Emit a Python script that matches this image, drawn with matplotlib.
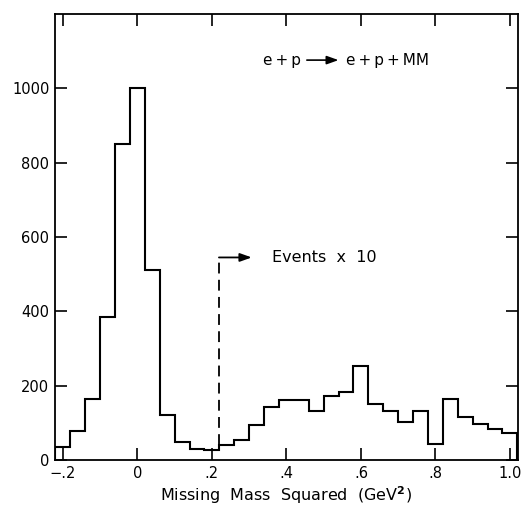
import numpy as np
import matplotlib
matplotlib.use('Agg')
import matplotlib.pyplot as plt

# Histogram of missing mass squared, bins 0.04 GeV^2 wide
bin_edges = np.round(np.arange(-0.22, 1.021, 0.04), 2)
counts = [35, 78, 164, 385, 850, 1000, 510, 121, 49, 29,
          28, 41, 55, 94, 143, 161, 161, 132, 172, 184,
          254, 152, 133, 102, 133, 44, 165, 115, 97, 83, 72]

x_ticks = [-0.2, 0, 0.2, 0.4, 0.6, 0.8, 1.0]
x_labels = ['\u2212.2', '0', '.2', '.4', '.6', '.8', '1.0']
y_ticks = [0, 200, 400, 600, 800, 1000]

plt.rcParams['font.family'] = ['DejaVu Sans']

fig = plt.figure(figsize=(5.22, 5.08), dpi=100)
ax = fig.add_axes([0.1054, 0.0945, 0.8864, 0.8779])

ax.stairs(counts, bin_edges, color='black', linewidth=1.5)

# scale change marker
ax.plot([0.22, 0.22], [41, 545], color='black', linewidth=1.3,
        linestyle=(0, (6, 3.5)))
ax.annotate('', xy=(0.307, 545), xytext=(0.219, 545),
            arrowprops=dict(arrowstyle='-|>,head_length=0.7,head_width=0.25',
                            color='black', lw=1.3, shrinkA=0, shrinkB=0))
ax.text(0.362, 545, 'Events  x  10', fontsize=11.5, va='center', ha='left')

# reaction label
ts = '\u2009'
ax.text(0.338, 1076, f'e{ts}+{ts}p', fontsize=11, va='center', ha='left')
ax.annotate('', xy=(0.54, 1076), xytext=(0.455, 1076),
            arrowprops=dict(arrowstyle='-|>,head_length=0.7,head_width=0.25',
                            color='black', lw=1.2, shrinkA=0, shrinkB=0))
ax.text(0.561, 1076, f'e{ts}+{ts}p{ts}+{ts}MM', fontsize=11, va='center', ha='left')

ax.set_xlim(-0.221, 1.021)
ax.set_ylim(0, 1200)
ax.set_xticks(x_ticks)
ax.set_xticklabels(x_labels)
ax.set_yticks(y_ticks)
ax.tick_params(direction='in', length=8.5, width=1.2, top=True, right=True,
               labelsize=10.5, pad=4)
for s in ax.spines.values():
    s.set_linewidth(1.3)

ax.set_xlabel('Missing  Mass  Squared  (GeV$^{\\mathbf{2}}$)', fontsize=11.5, labelpad=3)

fig.savefig('out.png', dpi=100)
